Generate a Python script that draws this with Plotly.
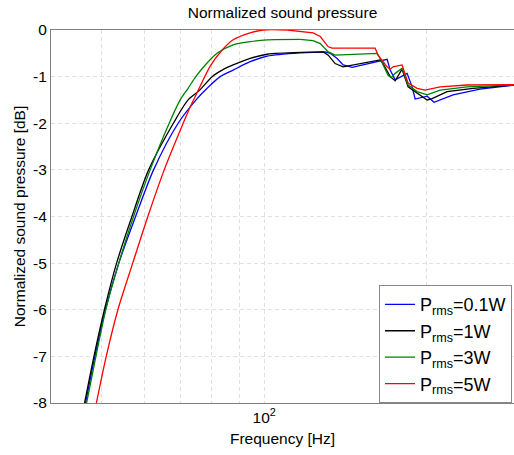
import plotly.graph_objects as go

# Frequencies [Hz] and normalized sound pressure [dB]
f_01 = [46.7, 48.6, 50.8, 53.8, 57.8, 62.4, 69.3, 74.8, 78.4, 82.9, 87.6, 94.2, 101.3, 116.6,
        129.7, 132.5, 136.5, 140.0, 145.5, 168.9, 171.1, 174.8, 179.3, 183.9, 187.9, 190.3,
        200.3, 206.3, 223.7, 251.0, 290.1]
p_01 = [-8.0, -7.0, -6.0, -5.0, -4.0, -3.0, -2.0, -1.5, -1.25, -1.0, -0.86, -0.68, -0.56, -0.49,
        -0.47, -0.50, -0.61, -0.75, -0.80, -0.63, -0.86, -1.07, -1.00, -0.93, -1.22, -1.48,
        -1.42, -1.55, -1.39, -1.27, -1.18]

f_1 = [46.5, 48.4, 50.6, 53.3, 56.9, 61.1, 67.9, 72.3, 75.8, 80.1, 83.6, 87.6, 94.2, 101.3, 116.6,
       128.6, 131.4, 135.3, 140.0, 163.9, 166.0, 171.1, 174.8, 180.0, 184.7, 191.9, 200.3, 204.6,
       218.1, 243.6, 290.1]
p_1 = [-8.0, -7.0, -6.0, -5.0, -4.0, -3.0, -2.0, -1.5, -1.3, -1.0, -0.86, -0.75, -0.61, -0.52,
       -0.48, -0.47, -0.54, -0.72, -0.79, -0.64, -0.72, -1.0, -1.09, -0.84, -1.22, -1.36, -1.50,
       -1.47, -1.32, -1.25, -1.18]

f_3 = [46.9, 48.8, 50.9, 53.8, 57.3, 61.5, 66.7, 69.9, 72.3, 74.7, 77.8, 81.8, 87.6, 94.2, 101.3,
       116.6, 123.2, 127.0, 131.4, 135.3, 161.9, 163.9, 169.6, 171.8, 174.8, 180.0, 184.7, 191.9,
       200.3, 211.7, 237.5, 290.1]
p_3 = [-8.0, -7.0, -6.0, -5.0, -4.0, -3.0, -2.0, -1.5, -1.25, -1.0, -0.75, -0.5, -0.32, -0.25,
       -0.21, -0.20, -0.23, -0.29, -0.47, -0.54, -0.50, -0.61, -0.97, -1.02, -0.93, -0.82, -1.18,
       -1.32, -1.39, -1.29, -1.22, -1.18]

f_5 = [48.9, 51.0, 53.6, 57.1, 60.9, 65.3, 70.8, 73.3, 74.5, 76.6, 79.4, 83.3, 87.6, 94.2, 99.6,
       110.3, 123.2, 127.0, 131.4, 133.6, 160.5, 162.5, 168.9, 171.1, 173.3, 180.0, 184.7, 191.9,
       198.6, 211.7, 237.5, 290.1]
p_5 = [-8.0, -7.0, -6.0, -5.0, -4.0, -3.0, -2.0, -1.6, -1.43, -1.14, -0.78, -0.45, -0.21, -0.06,
       0.0, 0.0, -0.06, -0.14, -0.36, -0.39, -0.39, -0.54, -0.79, -0.84, -0.79, -0.75, -1.14,
       -1.25, -1.29, -1.22, -1.18, -1.17]

# number of leading points forming the smooth roll-off (drawn as a spline)
rolloff_n = [14, 15, 16, 16]

names = ["P<sub>rms</sub>=0.1W", "P<sub>rms</sub>=1W", "P<sub>rms</sub>=3W", "P<sub>rms</sub>=5W"]
colors = ["#0000ff", "#000000", "#008000", "#ff0000"]
series = [(f_01, p_01), (f_1, p_1), (f_3, p_3), (f_5, p_5)]

x_grid = [50, 60, 70, 80, 90, 100, 200]
x_text = ["", "", "", "", "", "10<sup>2</sup>", ""]
y_ticks = [-8, -7, -6, -5, -4, -3, -2, -1, 0]
y_text = ["-8", "-7", "-6", "-5", "-4", "-3", "-2", "-1", "0"]

fig = go.Figure()
for i, ((fx, py), n, c, k) in enumerate(zip(series, names, colors, rolloff_n)):
    fig.add_trace(go.Scatter(x=fx[:k], y=py[:k], mode="lines", name=n, legendgroup=n,
                             showlegend=False,
                             line=dict(color=c, width=1.3, shape="spline", smoothing=0.8)))
    fig.add_trace(go.Scatter(x=fx[k - 1:], y=py[k - 1:], mode="lines", name=n, legendgroup=n,
                             showlegend=True, line=dict(color=c, width=1.3)))

font = "Liberation Sans, Arial, sans-serif"
fig.update_layout(
    width=514, height=455,
    margin=dict(l=51, r=0, t=30, b=52),
    paper_bgcolor="white", plot_bgcolor="white",
    font=dict(family=font, size=15.5, color="black"),
    title=dict(text="Normalized sound pressure", x=0.5, xref="paper", xanchor="center",
               y=1 - 13 / 455, yanchor="middle", font=dict(size=15.5)),
    showlegend=True,
    legend=dict(x=0.9957, y=0.316, xanchor="right", yanchor="top",
                bgcolor="white", bordercolor="#888888", borderwidth=1,
                font=dict(size=18), tracegroupgap=0, itemwidth=30),
    xaxis=dict(type="log", range=[1.6053, 2.4625],
               tickmode="array", tickvals=x_grid, ticktext=x_text,
               showgrid=True, gridcolor="#e0e0e0", griddash="4px,3px", gridwidth=1,
               showline=True, linecolor="#808080", linewidth=1, mirror=True,
               ticks="", zeroline=False, tickfont=dict(size=15.5),
               title=dict(text="Frequency [Hz]", standoff=8, font=dict(size=15.5))),
    yaxis=dict(range=[-8, 0], tickmode="array", tickvals=y_ticks, ticktext=y_text,
               showgrid=True, gridcolor="#e0e0e0", griddash="4px,3px", gridwidth=1,
               showline=True, linecolor="#808080", linewidth=1,
               ticks="", zeroline=False, tickfont=dict(size=15.5),
               title=dict(text="Normalized sound pressure [dB]", standoff=3, font=dict(size=15.5))),
)

fig.write_html("out.html")
